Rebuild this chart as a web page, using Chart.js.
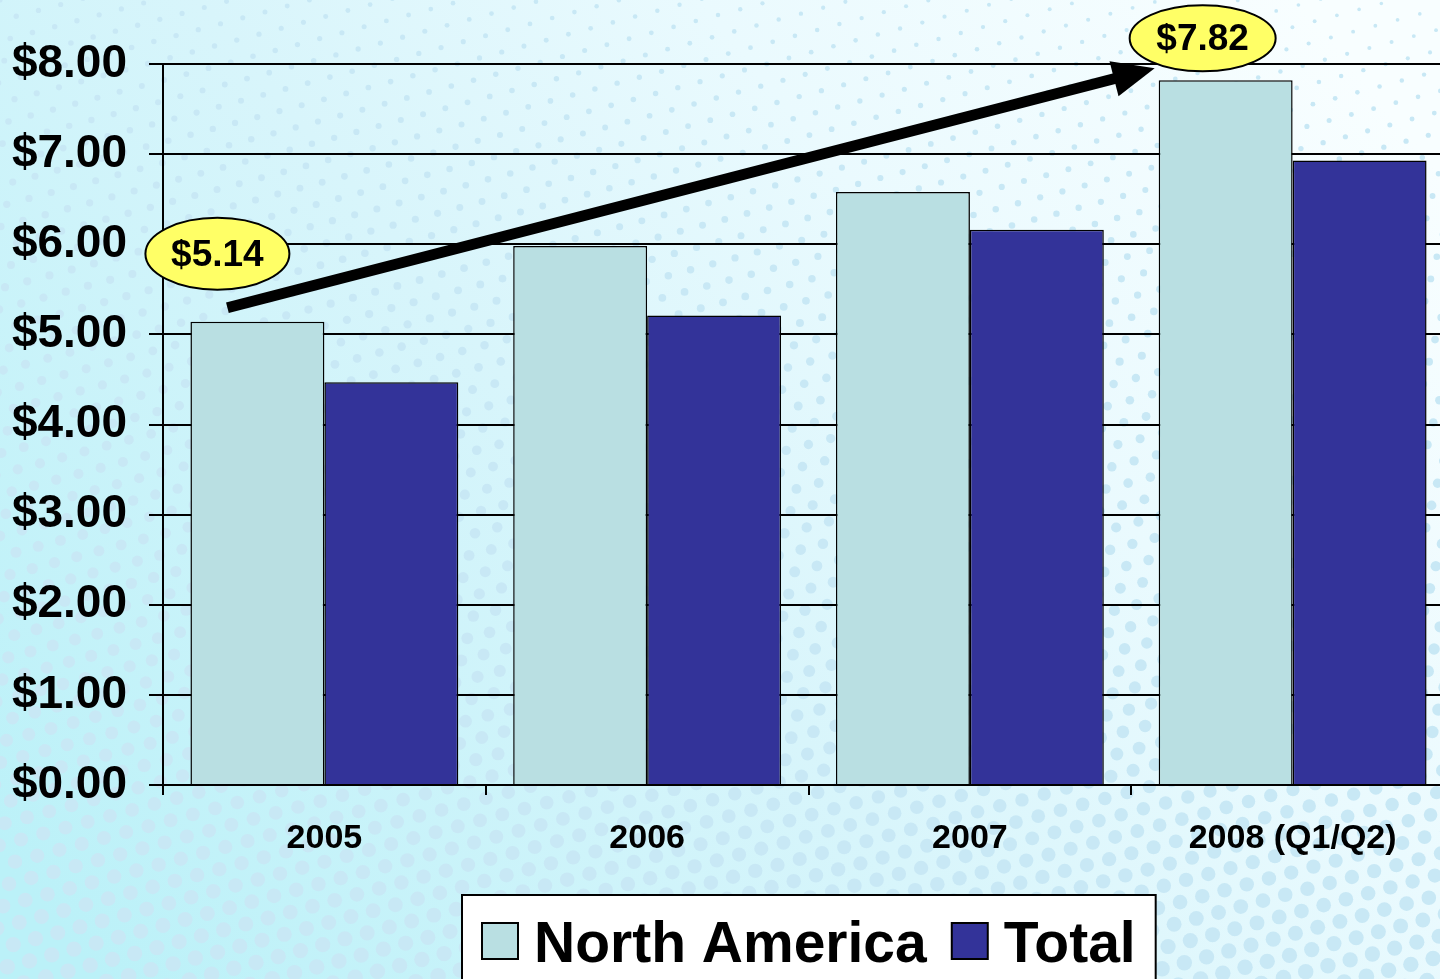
<!DOCTYPE html>
<html>
<head>
<meta charset="utf-8">
<script src="https://cdn.jsdelivr.net/npm/chart.js@4.4.1/dist/chart.umd.min.js"></script>
<style>
  html, body { margin: 0; padding: 0; overflow: hidden; background: #e8f9fc; }
  #wrap { width: 1460px; height: 979px; }
</style>
</head>
<body>
<div id="wrap"><canvas id="chart" width="1460" height="979"></canvas></div>
<script>
// --- data ---
const years = ['2005', '2006', '2007', '2008 (Q1/Q2)'];
const northAmerica = [5.14, 5.98, 6.58, 7.82];
const total = [4.47, 5.21, 6.16, 6.93];
const yTicks = [0, 1, 2, 3, 4, 5, 6, 7, 8];
const seriesNames = ['North America', 'Total'];

const FONT = '"Liberation Sans", Arial, sans-serif';
Chart.defaults.font.family = FONT;
Chart.defaults.color = '#000';

// dotted cyan background
const bgPlugin = {
    id: 'bg',
    beforeDraw(chart) {
        const { ctx, width, height } = chart;
        ctx.save();
        const g = ctx.createLinearGradient(1300, 0, 100, height);
        g.addColorStop(0, '#f8feff');
        g.addColorStop(0.3, '#eafafe');
        g.addColorStop(0.55, '#d8f5fb');
        g.addColorStop(1, '#bbf1f8');
        ctx.fillStyle = g;
        ctx.fillRect(0, 0, width, height);

        ctx.fillStyle = '#c8e8f5';
        const step = 23, ang = -0.26;
        const c = Math.cos(ang), s = Math.sin(ang);
        for (let i = -70; i < 120; i++) {
            for (let j = -40; j < 90; j++) {
                const u = i * step + (j % 2 ? step / 2 : 0);
                const v = j * step * 0.866;
                const x = u * c - v * s;
                const y = u * s + v * c;
                if (x < -10 || x > width + 10 || y < -10 || y > height + 10) continue;
                const t = y / height;
                const r = 2.6 + 5.2 * t - 0.9 * (x / width) * (1 - t);
                ctx.beginPath();
                ctx.arc(x, y, Math.max(r, 1.4), 0, Math.PI * 2);
                ctx.fill();
            }
        }
        ctx.restore();
    }
};

// arrow + yellow callouts
const calloutPlugin = {
    id: 'callouts',
    afterDatasetsDraw(chart) {
        const ctx = chart.ctx;
        const bars = chart.getDatasetMeta(0).data;
        const first = bars[0], last = bars[bars.length - 1];

        const x0 = first.x - 30, y0 = first.y - 14;
        const x1 = last.x - last.width / 2 - 4, y1 = last.y - 12;
        const a = Math.atan2(y1 - y0, x1 - x0);
        const headLen = 42, headW = 18;
        const bx = x1 - headLen * Math.cos(a), by = y1 - headLen * Math.sin(a);

        ctx.save();
        ctx.strokeStyle = '#000';
        ctx.fillStyle = '#000';
        ctx.lineWidth = 11;
        ctx.beginPath();
        ctx.moveTo(x0, y0);
        ctx.lineTo(bx + 4 * Math.cos(a), by + 4 * Math.sin(a));
        ctx.stroke();
        ctx.beginPath();
        ctx.moveTo(x1, y1);
        ctx.lineTo(bx - headW * Math.sin(a), by + headW * Math.cos(a));
        ctx.lineTo(bx + headW * Math.sin(a), by - headW * Math.cos(a));
        ctx.closePath();
        ctx.fill();

        const callouts = [
            { bar: first, val: northAmerica[0], dx: -40, dy: -68, rx: 72, ry: 36 },
            { bar: last, val: northAmerica[northAmerica.length - 1], dx: -23, dy: -42, rx: 73, ry: 33 }
        ];
        callouts.forEach(co => {
            const cx = co.bar.x + co.dx, cy = co.bar.y + co.dy;
            ctx.beginPath();
            ctx.ellipse(cx, cy, co.rx, co.ry, 0, 0, Math.PI * 2);
            ctx.fillStyle = '#ffff66';
            ctx.fill();
            ctx.lineWidth = 2;
            ctx.strokeStyle = '#000';
            ctx.stroke();
            ctx.fillStyle = '#000';
            ctx.font = 'bold 37px ' + FONT;
            ctx.textAlign = 'center';
            ctx.textBaseline = 'middle';
            ctx.fillText('$' + co.val.toFixed(2), cx, cy + 2);
        });
        ctx.restore();
    }
};

// boxed legend under the axis
const legendPlugin = {
    id: 'boxLegend',
    afterDraw(chart) {
        const ctx = chart.ctx, area = chart.chartArea;
        ctx.save();
        ctx.font = 'bold 57px ' + FONT;
        const items = chart.data.datasets.map(ds => ({
            label: ds.label, color: ds.backgroundColor, w: ctx.measureText(ds.label).width
        }));
        const pad = 20, sq = 36, gap = 16, between = 25;
        const w = pad * 2 + items.reduce((sum, it) => sum + sq + gap + it.w, 0) + between * (items.length - 1);
        const left = Math.round((area.left + area.right) / 2 - w / 2);
        const top = area.bottom + 110;

        ctx.fillStyle = '#fff';
        ctx.fillRect(left, top, w, 120);
        ctx.strokeStyle = '#000';
        ctx.lineWidth = 2;
        ctx.strokeRect(left, top, w, 120);

        let x = left + pad;
        items.forEach(it => {
            ctx.fillStyle = it.color;
            ctx.fillRect(x, top + 28, sq, sq);
            ctx.strokeRect(x, top + 28, sq, sq);
            x += sq + gap;
            ctx.fillStyle = '#000';
            ctx.textBaseline = 'alphabetic';
            ctx.fillText(it.label, x, top + 67);
            x += it.w + between;
        });
        ctx.restore();
    }
};

new Chart(document.getElementById('chart'), {
    type: 'bar',
    data: {
        labels: years,
        datasets: [
            {
                label: seriesNames[0],
                data: northAmerica,
                backgroundColor: '#b9dfe2',
                borderColor: '#000',
                borderWidth: 1.5,
                categoryPercentage: 0.83,
                barPercentage: 1.0
            },
            {
                label: seriesNames[1],
                data: total,
                backgroundColor: '#333399',
                borderColor: '#000',
                borderWidth: 1.5,
                categoryPercentage: 0.83,
                barPercentage: 1.0
            }
        ]
    },
    options: {
        responsive: false,
        animation: false,
        devicePixelRatio: 1,
        events: [],
        layout: { padding: { top: 64, right: 6, left: 0, bottom: 0 } },
        plugins: {
            legend: { display: false },
            tooltip: { enabled: false }
        },
        scales: {
            x: {
                afterFit: scale => { scale.height = 194; },
                grid: {
                    display: true,
                    drawOnChartArea: false,
                    drawTicks: true,
                    tickLength: 10,
                    offset: true,
                    color: '#000',
                    lineWidth: 2
                },
                border: { display: true, color: '#000', width: 2 },
                ticks: {
                    font: { size: 34, weight: 'bold' },
                    color: '#000',
                    padding: 23,
                    maxRotation: 0,
                    autoSkip: false
                }
            },
            y: {
                min: 0,
                max: 8,
                afterFit: scale => { scale.width = 163; },
                afterBuildTicks: scale => { scale.ticks = yTicks.map(v => ({ value: v })); },
                grid: {
                    color: '#000',
                    lineWidth: 2,
                    drawTicks: true,
                    tickLength: 14
                },
                border: { display: true, color: '#000', width: 2 },
                ticks: {
                    font: { size: 46, weight: 'bold' },
                    color: '#000',
                    padding: 22,
                    callback: v => '$' + v.toFixed(2)
                }
            }
        }
    },
    plugins: [bgPlugin, calloutPlugin, legendPlugin]
});
</script>
</body>
</html>
